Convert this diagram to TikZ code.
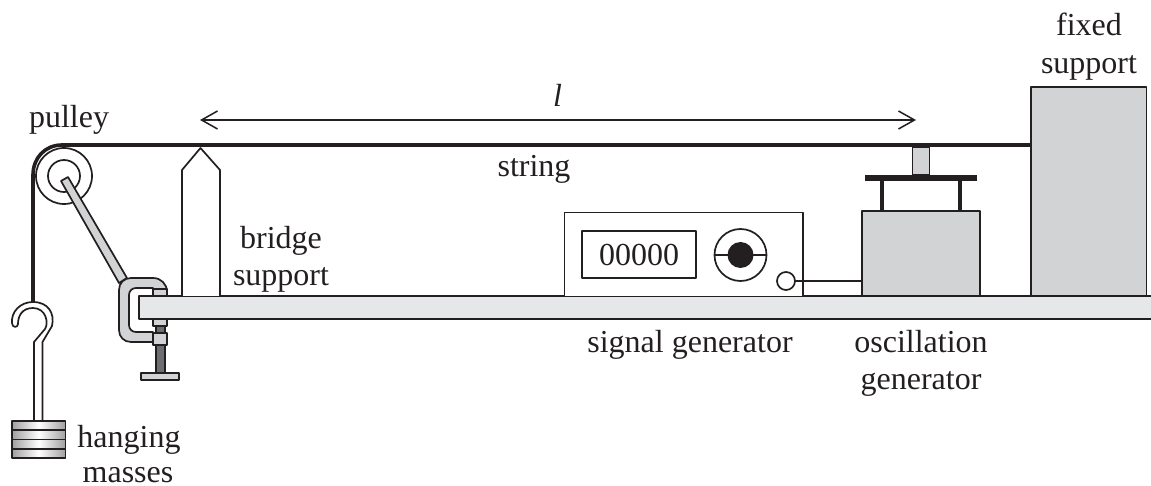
\documentclass[tikz,border=0pt]{standalone}
\usepackage{fontspec}
\setmainfont{Liberation Serif}
\usetikzlibrary{arrows.meta}
\definecolor{inkline}{HTML}{231F20}
\definecolor{partgrey}{HTML}{D1D3D4}
\definecolor{boardgrey}{HTML}{E6E7E8}
\definecolor{screwgrey}{HTML}{6D6E71}
\begin{document}
\begin{tikzpicture}[x=1pt,y=-1pt,line join=round,
  part/.style={draw=inkline,line width=1.7pt,fill=partgrey},
  outline/.style={draw=inkline,line width=1.7pt,fill=white},
  stringline/.style={draw=inkline,line width=3.6pt},
  label/.style={anchor=base,font=\fontsize{32}{32}\selectfont,text=inkline,inner sep=0pt,outer sep=0pt},
  mass/.style={draw=inkline,line width=1.7pt,left color=gray!75,right color=gray!75,middle color=white},
  every node/.style={inner sep=0pt,outer sep=0pt}]
\useasboundingbox (0,0) rectangle (1151,486);
% board
\fill[boardgrey] (139,296) rectangle (1151,319);
\draw[inkline,line width=1.7pt] (1151,296) -- (139,296) -- (139,319) -- (1151,319);
% pulley
\draw[outline] (64,176) circle (28);
\draw[draw=inkline,line width=1.7pt] (64,176) circle (16);
\draw[part] (61,181) -- (68,177) -- (127,278) -- (119,283) -- cycle;
% string
\draw[stringline] (33,309) -- (33,175) .. controls (33,158) and (45,145) .. (62,145) -- (1031,145);
% clamp
\draw[part] (167,296) -- (167,292) .. controls (167,284) and (161,278) .. (153,278)
  -- (131,278) .. controls (124,278) and (119,283) .. (119,290) -- (119,330)
  .. controls (119,337) and (124,342) .. (131,342) -- (153,342) -- (153,332) -- (136,332)
  .. controls (132,332) and (129,329) .. (129,325) -- (129,295)
  .. controls (129,291) and (132,288) .. (136,288) -- (153,288) -- (153,296) -- cycle;
\draw[part] (153,289) rectangle (167,296);
\draw[part] (153,319) rectangle (167,326);
\draw[draw=inkline,line width=1.7pt,fill=screwgrey] (156,326) rectangle (165,333);
\draw[draw=inkline,line width=1.7pt,fill=screwgrey] (156,345) rectangle (165,374);
\draw[part] (153,333) rectangle (167,345);
\draw[part] (141,373) rectangle (179,380);
% bridge
\draw[draw=inkline,line width=1.7pt,fill=white] (182,296) -- (182,170) -- (200.5,148) -- (220,170) -- (220,296);
% hook and rod
\draw[outline] (34,421) -- (34,342) -- (45,329) .. controls (49,323) and (46,308) .. (33,308)
  .. controls (22,308) and (18,316) .. (18,324) .. controls (18,328) and (12,328) .. (12,323)
  .. controls (11,312) and (20,302) .. (33,302) .. controls (48,302) and (55,313) .. (52,326)
  -- (42.5,342) -- (42.5,421);
% masses
\foreach \top/\bot in {421/430,430/439.5,439.5/449,449/458}
  \draw[mass] (12,\top) rectangle (65.5,\bot);
% signal generator
\draw[outline] (564.5,296) -- (564.5,212.5) -- (803,212.5) -- (803,296);
\draw[outline] (582,231) rectangle (696,278);
\node[label] (count) at (639,266) {00000};
\draw[outline] (740.5,255) circle (26);
\draw[draw=inkline,line width=1.7pt] (714.5,255) -- (766.5,255);
\fill[inkline] (740.5,255) circle (13);
\node[circle,draw=inkline,line width=1.7pt,fill=white,minimum size=18pt] (socket) at (786,281) {};
% oscillation generator
\node[draw=inkline,line width=1.7pt,fill=partgrey,minimum width=118pt,minimum height=85pt] (oscbox) at (921,253.5) {};
\draw[draw=inkline,line width=1.7pt] (socket.east) -- (socket.east -| oscbox.west);
\draw[draw=inkline,line width=4.6pt] (882,181) -- (882,211);
\draw[draw=inkline,line width=4.6pt] (960,181) -- (960,211);
\fill[inkline] (865,175) rectangle (977,181);
\draw[part] (912.5,147) rectangle (929.5,175);
% fixed support
\draw[part] (1031,296) rectangle (1146.5,87);
% length arrow
\coordinate (lstart) at (200,120);
\coordinate (lend) at (916,120);
\draw[{Straight Barb[length=16pt,width=18pt]}-{Straight Barb[length=16pt,width=18pt]},draw=inkline,line width=1.5pt] (lstart) -- (lend);
% labels
\node[label] (pulley) at (69,128) {pulley};
\node[label] (len) at (557.5,107) {\textit{l}};
\node[label] (string) at (534,177) {string};
\node[label] (bridgea) at (281,248.5) {bridge};
\node[label] (bridgeb) at (281,285.5) {support};
\node[label] (siggen) at (690,352) {signal generator};
\node[label] (osca) at (921,352) {oscillation};
\node[label] (oscb) at (921,389) {generator};
\node[label] (fixeda) at (1089,36) {fixed};
\node[label] (fixedb) at (1089,74) {support};
\node[label] (hanga) at (129,447) {hanging};
\node[label] (hangb) at (128,482) {masses};
\end{tikzpicture}
\end{document}
